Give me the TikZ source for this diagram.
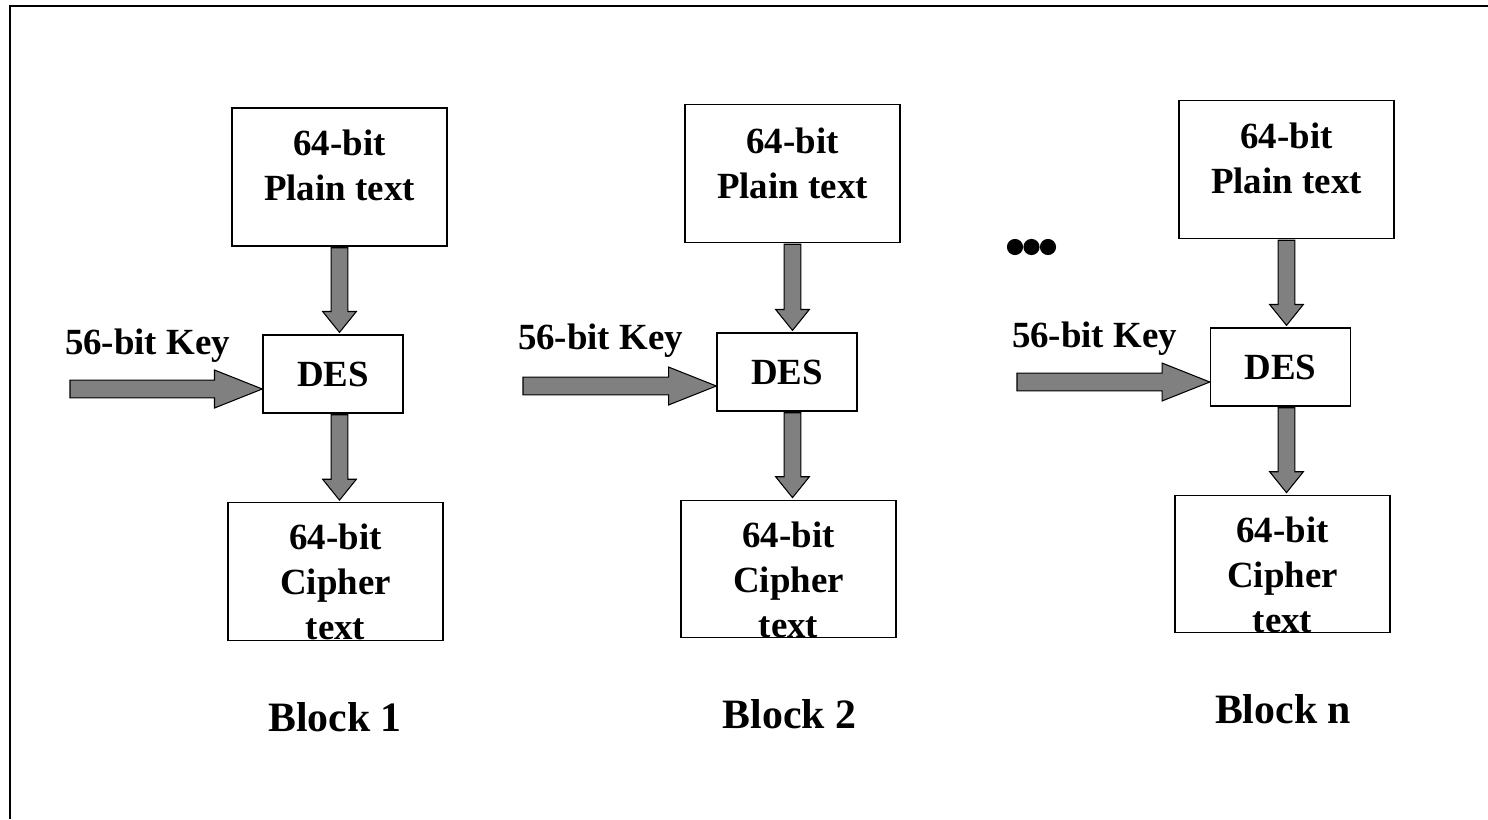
\documentclass[tikz,border=0pt]{standalone}
\usepackage{fontspec}
\setmainfont{Liberation Serif}
\usetikzlibrary{calc}

\newcommand{\boxfont}{\fontsize{21}{25.5}\selectfont\bfseries}
\newcommand{\blockfont}{\fontsize{23.8}{28}\selectfont\bfseries}

\tikzset{
  outerframe/.style={draw=black, line width=1.1pt},
  blockbox/.style={draw=black, line width=0.8pt, inner sep=0pt},
  plainbox/.style={blockbox, minimum width=4.3cm, minimum height=2.76cm},
  cipherbox/.style={blockbox, minimum width=4.3cm, minimum height=2.75cm},
  desbox/.style={blockbox, minimum width=2.8cm, minimum height=1.56cm, font=\boxfont},
  boxtext/.style={align=center, inner sep=0pt, font=\boxfont},
  blocktext/.style={inner sep=0pt, font=\blockfont},
  keyarrow/.style={draw=black, fill=gray, line width=0.6pt, to path={
    let \p1=(\tikztostart), \p2=(\tikztotarget) in
    (\x1,\y2+5.1pt) -- (\x2-27.2pt,\y2+5.1pt) -- (\x2-27.2pt,\y2+10.8pt) -- (\x2,\y2)
    -- (\x2-27.2pt,\y2-10.8pt) -- (\x2-27.2pt,\y2-5.1pt) -- (\x1,\y2-5.1pt) -- cycle}},
  downarrow/.style={draw=black, fill=gray, line width=0.6pt, to path={
    let \p1=(\tikztostart), \p2=(\tikztotarget) in
    (\x2-4.8pt,\y1-0.6pt) -- (\x2-4.8pt,\y2+13pt) -- (\x2-9.6pt,\y2+13pt) -- (\x2,\y2+1.1pt)
    -- (\x2+9.6pt,\y2+13pt) -- (\x2+4.8pt,\y2+13pt) -- (\x2+4.8pt,\y1-0.6pt) -- cycle}}
}

\begin{document}
\begin{tikzpicture}[x=0.02cm, y=0.02cm]
\useasboundingbox (0,0) rectangle (1488,-819);
\draw [outerframe] (10,-819) -- (10,-6) -- (1488,-6);

\node [plainbox] (plain1) at (339.5,-177) {};
\node [boxtext, anchor=north] (plaintxt1) at (339.5,-130) {64-bit\\Plain text};
\node [desbox] (des1) at (333,-374) {DES};
\node [cipherbox] (ciph1) at (335.5,-571.5) {};
\node [boxtext, anchor=north] (ciphtxt1) at (335.5,-524) {64-bit\\Cipher\\text};
\coordinate (key1) at (70,-389);
\node [boxtext, anchor=base] (keytxt1) at (147.5,-354) {56-bit Key};
\node [blocktext, anchor=base] (blk1) at (335,-731) {Block 1};
\draw [keyarrow] (key1) to (des1.west |- key1);
\draw [downarrow] (plain1.south) to (des1.north -| plain1.south);
\draw [downarrow] (des1.south -| plain1.south) to (ciph1.north -| plain1.south);

\node [plainbox] (plain2) at (792.5,-173.5) {};
\node [boxtext, anchor=north] (plaintxt2) at (792.5,-128) {64-bit\\Plain text};
\node [desbox] (des2) at (787,-372) {DES};
\node [cipherbox] (ciph2) at (788.5,-569) {};
\node [boxtext, anchor=north] (ciphtxt2) at (788.5,-522) {64-bit\\Cipher\\text};
\coordinate (key2) at (523,-386);
\node [boxtext, anchor=base] (keytxt2) at (600.5,-349) {56-bit Key};
\node [blocktext, anchor=base] (blk2) at (789.5,-728) {Block 2};
\draw [keyarrow] (key2) to (des2.west |- key2);
\draw [downarrow] (plain2.south) to (des2.north -| plain2.south);
\draw [downarrow] (des2.south -| plain2.south) to (ciph2.north -| plain2.south);

\fill (1015,-247) circle [radius=4.6pt];
\fill (1031.5,-247) circle [radius=4.6pt];
\fill (1048,-247) circle [radius=4.6pt];

\node [plainbox] (plainn) at (1286.5,-169.5) {};
\node [boxtext, anchor=north] (plaintxtn) at (1286.5,-123) {64-bit\\Plain text};
\node [desbox] (desn) at (1280.5,-367) {DES};
\node [cipherbox] (ciphn) at (1282.5,-564) {};
\node [boxtext, anchor=north] (ciphtxtn) at (1282.5,-517) {64-bit\\Cipher\\text};
\coordinate (keyn) at (1017,-382);
\node [boxtext, anchor=base] (keytxtn) at (1094.5,-347) {56-bit Key};
\node [blocktext, anchor=base] (blkn) at (1283,-723) {Block n};
\draw [keyarrow] (keyn) to (desn.west |- keyn);
\draw [downarrow] (plainn.south) to (desn.north -| plainn.south);
\draw [downarrow] (desn.south -| plainn.south) to (ciphn.north -| plainn.south);
\end{tikzpicture}
\end{document}
